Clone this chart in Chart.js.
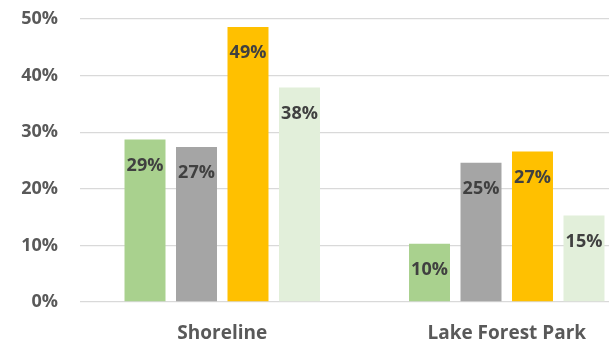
<!DOCTYPE html>
<html lang="en">
  <head>
    <meta charset="UTF-8" />
    <title>Shoreline vs Lake Forest Park</title>
    <script src="https://cdn.jsdelivr.net/npm/chart.js"></script>
    <style>
      html, body { margin: 0; padding: 0; background: #fff; overflow: hidden; }
      .wrap { width: 609px; height: 342px; overflow: hidden; }
    </style>
  </head>
  <body>
    <div class="wrap">
      <canvas id="barChart" width="649" height="342"></canvas>
    </div>

    <script>
      const places = ["Shoreline", "Lake Forest Park"];
      const seriesA = [28.7, 10.3];
      const seriesB = [27.4, 24.6];
      const seriesC = [48.6, 26.6];
      const seriesD = [37.9, 15.3];
      const yTicks = [0, 10, 20, 30, 40, 50];

      const colors = ["#a9d18e", "#a5a5a5", "#ffc000", "#e2efda"];
      const font = "'Open Sans', Lato, sans-serif";

      // percent labels drawn inside the top of each bar
      const barLabels = {
        id: "barLabels",
        afterDatasetsDraw(chart) {
          const ctx = chart.ctx;
          ctx.save();
          ctx.font = "bold 18px " + font;
          ctx.fillStyle = "#404040";
          ctx.textAlign = "center";
          ctx.textBaseline = "middle";
          chart.data.datasets.forEach((ds, i) => {
            chart.getDatasetMeta(i).data.forEach((bar, j) => {
              ctx.fillText(Math.round(ds.data[j]) + "%", bar.x, bar.y + 26);
            });
          });
          ctx.restore();
        },
      };

      new Chart(document.getElementById("barChart"), {
        type: "bar",
        data: {
          labels: places,
          datasets: [seriesA, seriesB, seriesC, seriesD].map((d, i) => ({
            data: d,
            backgroundColor: colors[i],
            borderWidth: 0,
            categoryPercentage: 0.724,
            barPercentage: 0.796,
          })),
        },
        options: {
          responsive: false,
          animation: false,
          devicePixelRatio: 1,
          layout: { padding: { top: 19, left: 0, right: 0, bottom: 0 } },
          plugins: { legend: { display: false }, tooltip: { enabled: false } },
          scales: {
            x: {
              grid: { display: false },
              border: { display: false },
              ticks: { color: "#595959", font: { family: font, size: 19, weight: "bold" }, padding: 12 },
              afterFit(scale) { scale.height = 40; },
            },
            y: {
              min: 0,
              max: 50,
              afterBuildTicks(scale) { scale.ticks = yTicks.map((v) => ({ value: v })); },
              grid: { color: "#d9d9d9", lineWidth: 1.3, drawTicks: false },
              border: { display: false },
              ticks: {
                color: "#595959",
                font: { family: font, size: 18, weight: "bold" },
                padding: 22,
                callback: (v) => v + "%",
              },
              afterFit(scale) {
                scale.width = 80;
                scale.paddingTop = 0;
                scale.paddingBottom = 0;
              },
            },
          },
        },
        plugins: [barLabels],
      });
    </script>
  </body>
</html>
